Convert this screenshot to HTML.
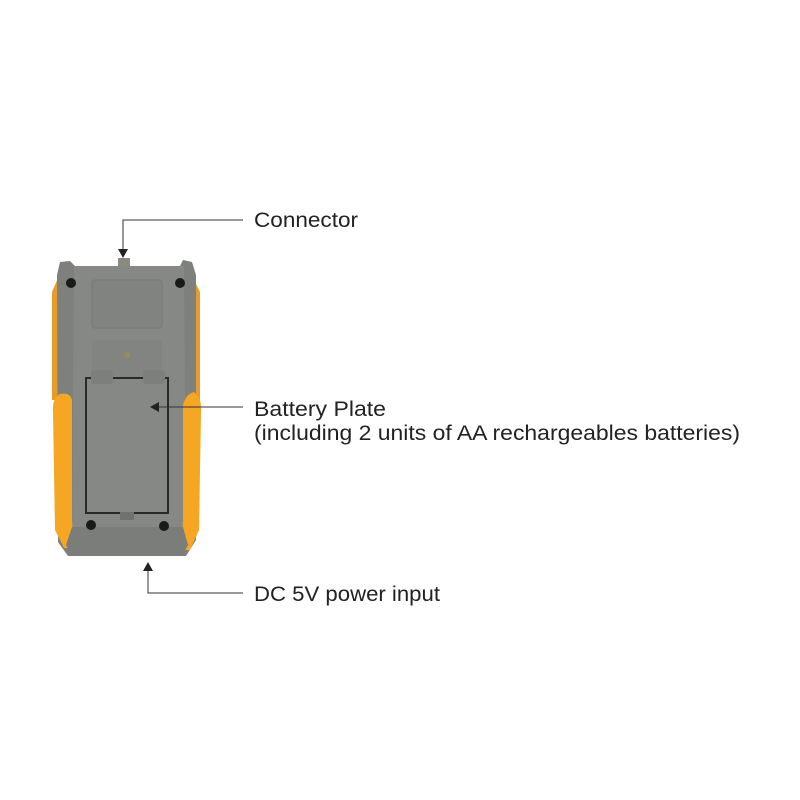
<!DOCTYPE html>
<html><head><style>html,body{margin:0;padding:0;background:#fff;}svg{display:block}</style></head>
<body>
<svg width="800" height="800" viewBox="0 0 800 800" xmlns="http://www.w3.org/2000/svg">
<rect width="800" height="800" fill="#fff"/>
<path d="M58 278 L52 292 L52 400 L60 400 L60 278 Z" fill="#e89a2c"/>
<path d="M194 280 L200 292 L200 400 L192 400 L192 280 Z" fill="#e89a2c"/>
<path d="M60 262 L70 261 L75 266 L180 266 L183 260 L192 262 L196 275 L196 540 L186 556 L68 556 L58 542 L57 275 Z" fill="#7d807c"/>
<path d="M74 266 L184 266 L186 545 L182 554 L74 554 L72 545 Z" fill="#858884"/>
<path d="M60 394 Q52 398 53 412 L55 530 L64 548 L74 548 L72 520 L72 400 Q70 392 60 394 Z" fill="#f5a623"/>
<path d="M194 392 Q202 398 201 412 L199 530 L190 550 L181 550 L183 520 L183 405 Q186 394 194 392 Z" fill="#f5a623"/>
<path d="M72 527 L183 527 L188 545 L182 556 L72 556 L66 545 Z" fill="#7a7d79"/>
<rect x="92" y="280" width="70" height="48" rx="3" fill="#80837f" stroke="#767975" stroke-width="1"/>
<rect x="92" y="340" width="70" height="40" rx="3" fill="#818480"/>
<circle cx="127" cy="355" r="3" fill="#9a8a60"/>
<rect x="118" y="258" width="12" height="8" fill="#8a8a80"/>
<rect x="86" y="378" width="82" height="135" fill="#858884" stroke="#2a2a2a" stroke-width="2"/>
<rect x="91" y="370" width="22" height="14" rx="3" fill="#7c7f7b"/>
<rect x="143" y="370" width="22" height="14" rx="3" fill="#7c7f7b"/>
<rect x="120" y="512" width="14" height="8" fill="#6f726e"/>
<circle cx="71" cy="283" r="5" fill="#1a1a1a"/>
<circle cx="180" cy="283" r="5" fill="#1a1a1a"/>
<circle cx="91" cy="525" r="5" fill="#1a1a1a"/>
<circle cx="164" cy="526" r="5" fill="#1a1a1a"/>
<g stroke="#333" stroke-width="1" fill="none">
<polyline points="243,220 123,220 123,250"/>
<line x1="243" y1="407" x2="158" y2="407"/>
<polyline points="148,570 148,593 243,593"/>
</g>
<g fill="#222">
<polygon points="118,249 128,249 123,258"/>
<polygon points="150,407 159,402 159,412"/>
<polygon points="143,571 153,571 148,562"/>
</g>
<g font-family="Liberation Sans, sans-serif" font-size="21" fill="#222">
<text x="254" y="227" textLength="104" lengthAdjust="spacingAndGlyphs">Connector</text>
<text x="254" y="416" textLength="132" lengthAdjust="spacingAndGlyphs">Battery Plate</text>
<text x="254" y="440" textLength="486" lengthAdjust="spacingAndGlyphs">(including 2 units of AA rechargeables batteries)</text>
<text x="254" y="601" textLength="186" lengthAdjust="spacingAndGlyphs">DC 5V power input</text>
</g>
</svg>
</body></html>
